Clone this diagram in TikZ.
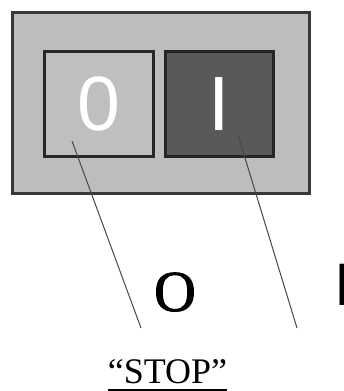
\documentclass[tikz,border=0pt]{standalone}
\usepackage{fontspec}
\setmainfont{Liberation Serif}
\newfontfamily\arialish{Liberation Sans}
\newfontfamily\boldishserif[FakeBold=1.5]{Liberation Serif}
\begin{document}
\begin{tikzpicture}[x=1pt,y=-1pt,
  panel/.style={draw=black!78,line width=3pt,fill=black!26},
  btnoff/.style={draw=black!85,line width=3pt,fill=black!25},
  btnon/.style={draw=black!85,line width=3pt,fill=black!65},
  glyph/.style={text=white,font=\arialish\fontsize{77}{77}\selectfont,inner sep=0pt,anchor=base},
  lead/.style={draw=black!72,line width=1pt},
  big/.style={font=\boldishserif\fontsize{58}{58}\selectfont,inner sep=0pt,anchor=base}]
\clip (0,0) rectangle (344,391);
\fill[white] (0,0) rectangle (344,391);
% panel
\node[panel,minimum width=296.5pt,minimum height=181.5pt,inner sep=0pt] (panel) at (160.75,102.75) {};
% buttons
\node[btnoff,minimum width=109pt,minimum height=105pt,inner sep=0pt] (off) at (98.5,103.5) {};
\node[btnon,minimum width=108pt,minimum height=105pt,inner sep=0pt] (on) at (219,103.5) {};
\node[glyph] (zero) at (98.5,130) {0};
\node[glyph] (one) at (219,130) {I};
% leader lines
\coordinate (la) at (72,141);
\coordinate (lb) at (141,328);
\coordinate (ra) at (238,135);
\coordinate (rb) at (297,328);
\draw[lead] (la) -- (lb);
\draw[lead] (ra) -- (rb);
% labels
\node[big] (O) at (175,311) {O};
\node[font=\arialish\fontsize{60}{60}\selectfont,inner sep=0pt,anchor=base west] (I) at (334.4,305) {I};
\node[font=\fontsize{36}{36}\selectfont,inner sep=0pt,anchor=base] (stop) at (167.5,383) {“STOP”};
\draw[line width=2pt] ([yshift=-7pt]stop.base west) -- ([yshift=-7pt]stop.base east);
\end{tikzpicture}
\end{document}
